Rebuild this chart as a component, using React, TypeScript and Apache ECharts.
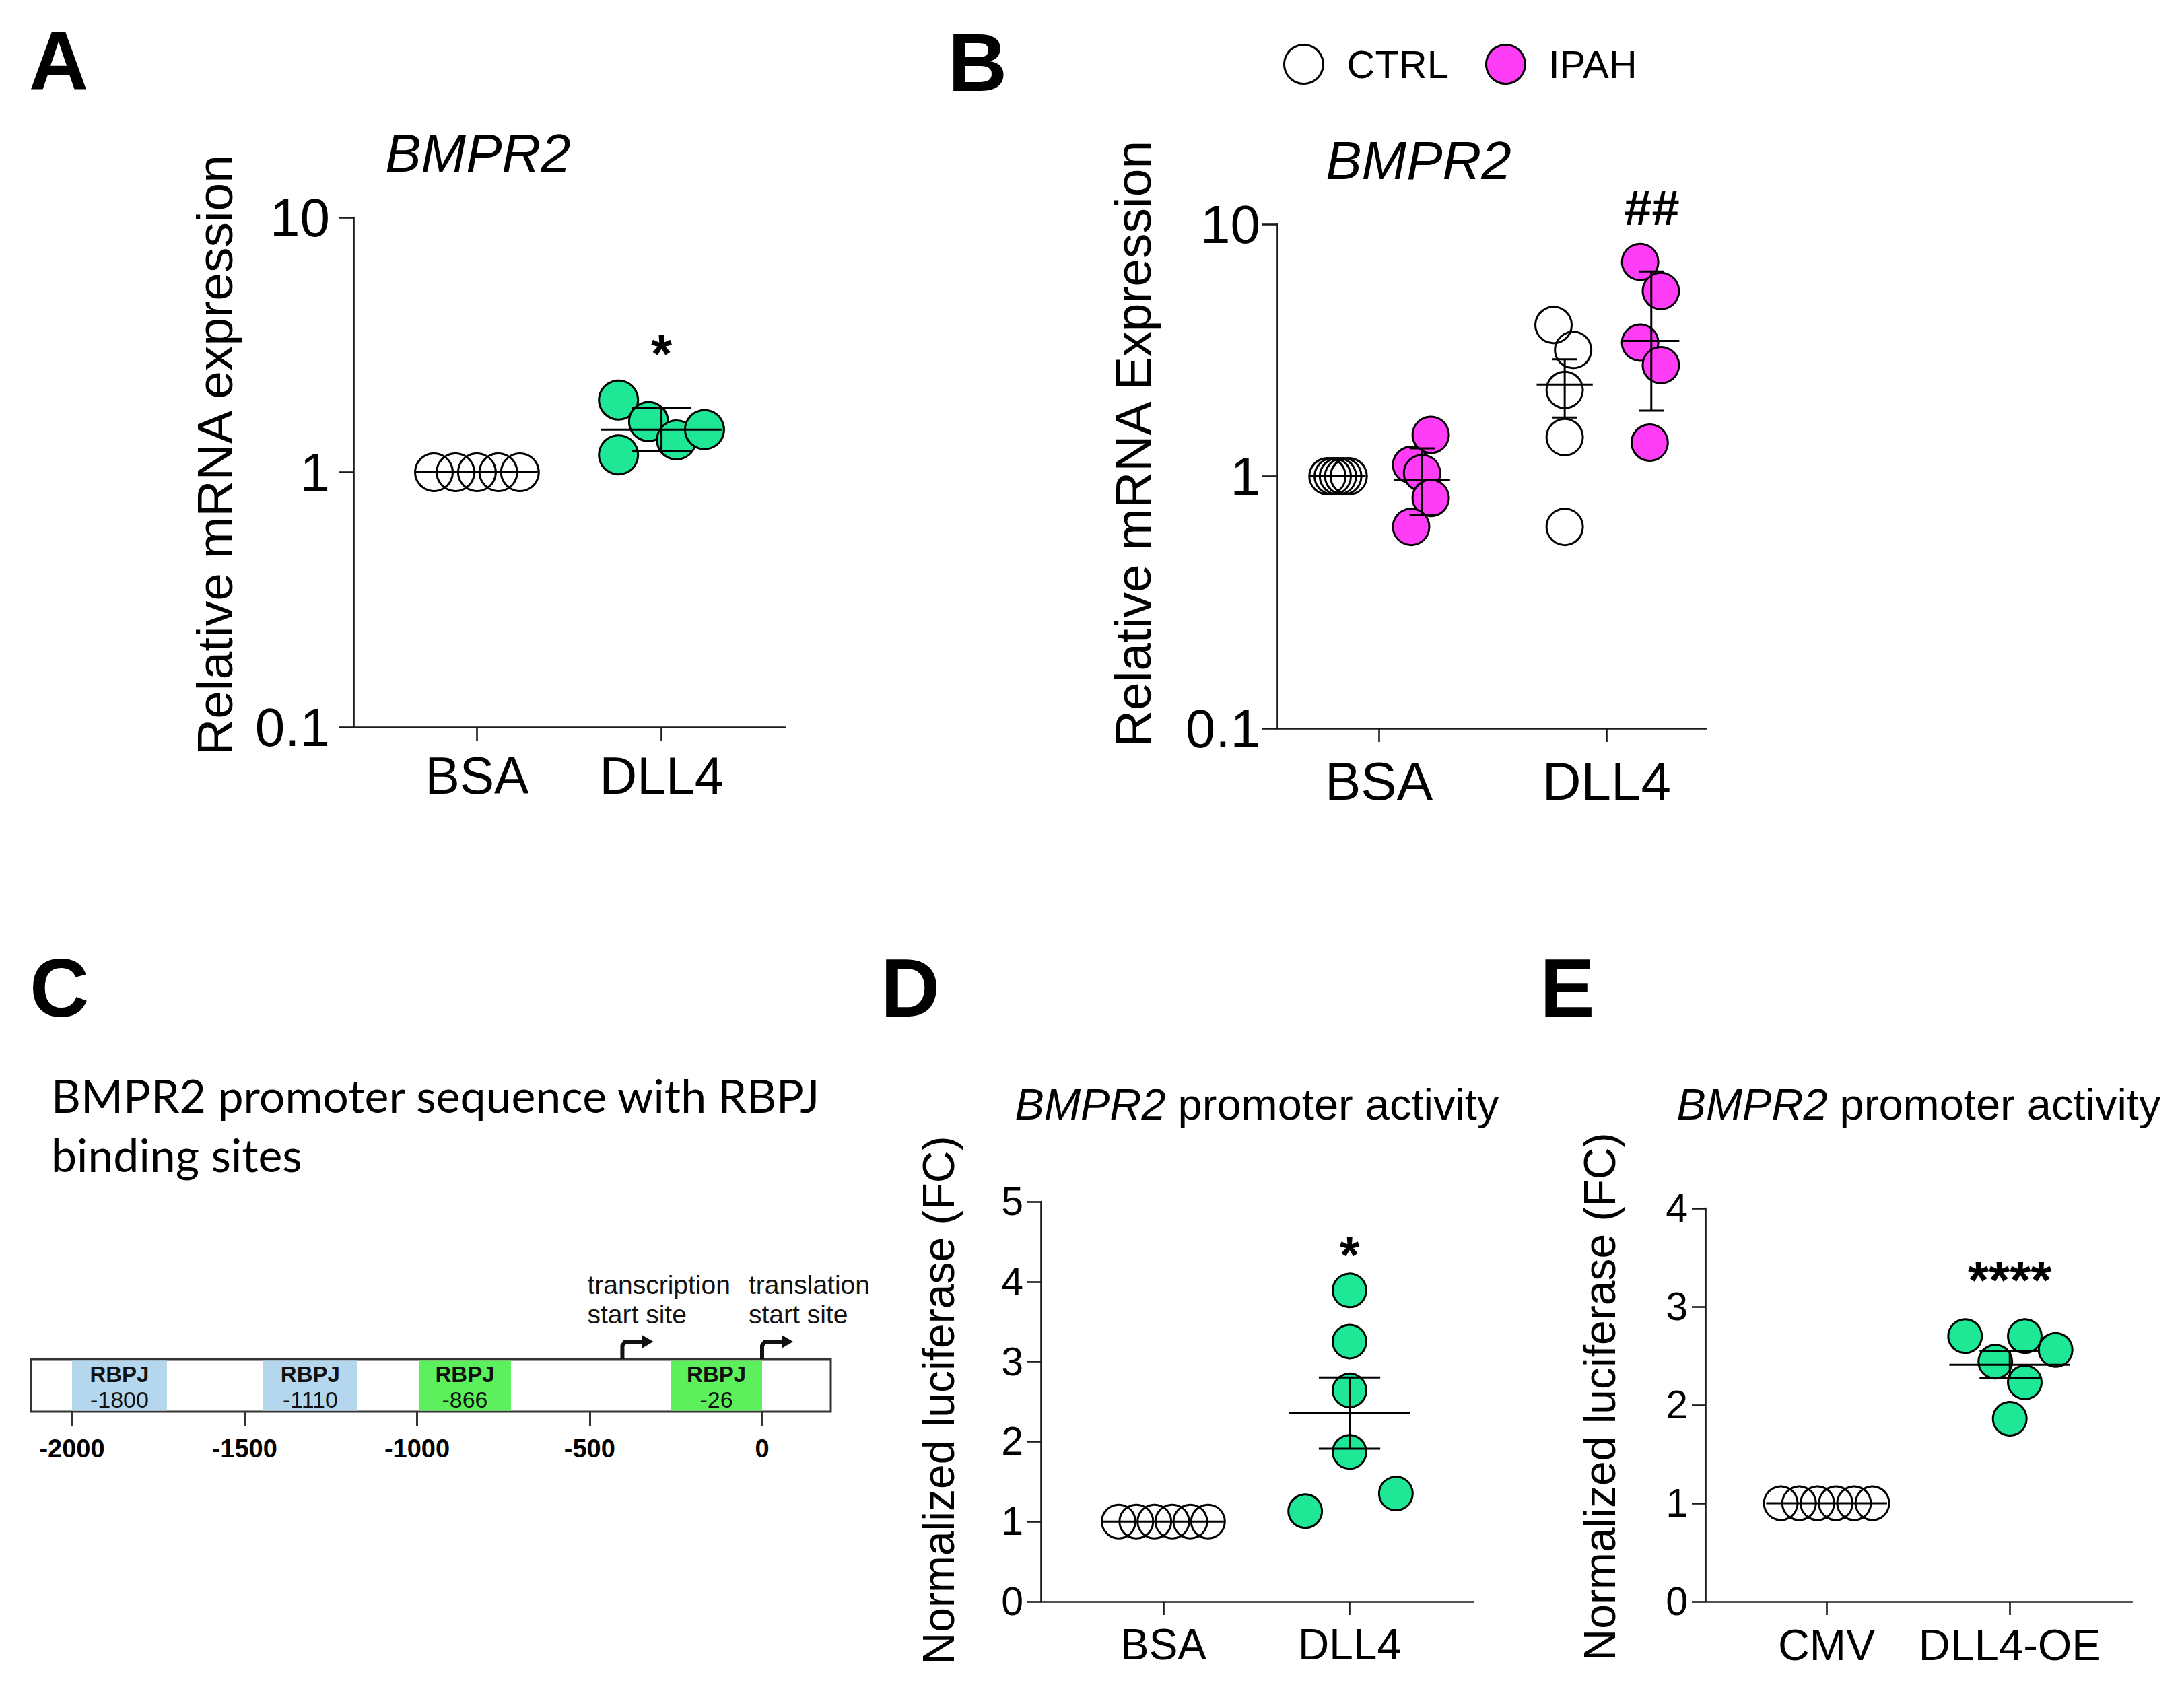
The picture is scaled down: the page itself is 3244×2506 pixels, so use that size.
import React, { useEffect, useRef } from 'react';
import * as echarts from 'echarts';

const W = 3244;
const H = 2506;
const FONT = '"Liberation Sans", Arial, Helvetica, sans-serif';
const AX = '#1a1a1a';
const GREEN = '#1ee896';
const PINK = '#ff3cf6';
const OPEN = 'rgba(255,255,255,0)';

// ---------- Panel A ----------
const aCategories = ['BSA', 'DLL4'];
const aBsaValues = [1, 1, 1, 1, 1];
const aBsaJitter = [-0.233, -0.116, 0, 0.116, 0.233];
const aDll4Values = [1.92, 1.58, 1.34, 1.47, 1.17];
const aDll4Jitter = [-0.233, -0.07, 0.081, 0.233, -0.233];
const aMean = [1, 1.47];
const aLow = [1, 1.21];
const aHigh = [1, 1.79];
const aSigText = ['*'];
const aSigPos = [[2, 2.92]];

// ---------- Panel B ----------
const bCategories = ['BSA', 'DLL4'];
const bCtrlBsa = [1, 1, 1, 1, 1];
const bCtrlBsaJitter = [-0.225, -0.202, -0.179, -0.156, -0.132];
const bIpahBsa = [1.46, 1.11, 1.03, 0.82, 0.63];
const bIpahBsaJitter = [0.228, 0.142, 0.19, 0.228, 0.142];
const bCtrlDll4 = [3.98, 3.17, 2.2, 1.43, 0.63];
const bCtrlDll4Jitter = [-0.233, -0.147, -0.184, -0.184, -0.184];
const bIpahDll4 = [7.08, 5.43, 3.39, 2.76, 1.36];
const bIpahDll4Jitter = [0.147, 0.238, 0.147, 0.238, 0.189];
const bStatX = [1 - 0.18, 1 + 0.19, 2 - 0.184, 2 + 0.196];
const bMean = [1, 0.97, 2.31, 3.44];
const bLow = [1, 0.7, 1.71, 1.82];
const bHigh = [1, 1.29, 2.91, 6.49];
const bSigText = ['##'];
const bSigPos = [[2.198, 11.6]];

// ---------- Panel C ----------
const cTicks = [-2000, -1500, -1000, -500, 0];
const cSiteStart = [-2000, -1446, -995, -265];
const cSiteEnd = [-1725, -1173, -728, 0];
const cSiteLabel = [-1800, -1110, -866, -26];
const cSiteKind = [0, 0, 1, 1];
const cArrowPos = [-405, 0];
const cArrowText = ['transcription\nstart site', 'translation\nstart site'];

// ---------- Panel D ----------
const dCategories = ['BSA', 'DLL4'];
const dBsaValues = [1, 1, 1, 1, 1, 1];
const dBsaJitter = [-0.24, -0.145, -0.048, 0.048, 0.145, 0.24];
const dDll4Values = [3.89, 3.25, 2.64, 1.87, 1.13, 1.35];
const dDll4Jitter = [0, 0, 0, 0, -0.238, 0.249];
const dMean = [1, 2.36];
const dLow = [1, 1.91];
const dHigh = [1, 2.8];
const dSigText = ['*'];
const dSigPos = [[2, 4.34]];

// ---------- Panel E ----------
const eCategories = ['CMV', 'DLL4-OE'];
const eCmvValues = [1, 1, 1, 1, 1, 1];
const eCmvJitter = [-0.25, -0.15, -0.05, 0.05, 0.15, 0.25];
const eOeValues = [2.7, 2.44, 2.7, 2.56, 2.23, 1.86];
const eOeJitter = [-0.244, -0.079, 0.082, 0.25, 0.082, 0];
const eMean = [1, 2.41];
const eLow = [1, 2.27];
const eHigh = [1, 2.55];
const eSigText = ['****'];
const eSigPos = [[2, 3.27]];

const lineStyle = { color: AX, width: 2.6 };

function pts(group: number, values: number[], jitter: number[]) {
  return values.map((v, i) => [group + jitter[i], v]);
}

function makeX(gridIndex: number, min: number, max: number, cats: string[], fontSize: number, margin: number) {
  const pos = cats.map((_, i) => i + 1);
  return {
    type: 'value', gridIndex, min, max,
    splitLine: { show: false },
    axisLine: { show: true, onZero: false, lineStyle },
    axisTick: { show: true, customValues: pos, length: 20, lineStyle },
    axisLabel: {
      show: true, customValues: pos, fontSize, margin, color: '#000', fontFamily: FONT,
      formatter: (v: number) => cats[Math.round(v) - 1] ?? '',
    },
  };
}

function makeLogY(gridIndex: number, fontSize: number, margin: number) {
  return {
    type: 'log', logBase: 10, gridIndex, min: 0.1, max: 10,
    splitLine: { show: false },
    axisLine: { show: true, onZero: false, lineStyle },
    axisTick: { show: true, length: 22, lineStyle },
    minorTick: { show: false },
    axisLabel: {
      fontSize, margin, color: '#000', fontFamily: FONT,
      formatter: (v: number) => String(Number(Number(v).toPrecision(3))),
    },
  };
}

function makeLinY(gridIndex: number, max: number, fontSize: number, margin: number) {
  return {
    type: 'value', gridIndex, min: 0, max, interval: 1,
    splitLine: { show: false },
    axisLine: { show: true, onZero: false, lineStyle },
    axisTick: { show: true, length: 20, lineStyle },
    axisLabel: { fontSize, margin, color: '#000', fontFamily: FONT },
  };
}

function scatter(name: string, g: number, data: number[][], size: number, fill: string) {
  return {
    type: 'scatter', name, xAxisIndex: g, yAxisIndex: g, data,
    symbol: 'circle', symbolSize: size, clip: false, silent: true, z: 2,
    itemStyle: { color: fill, borderColor: '#000', borderWidth: 3, opacity: 1 },
  };
}

function stats(g: number, xs: number[], mean: number[], low: number[], high: number[], mh: number, ch: number) {
  const data = xs.map((x, i) => [x, mean[i], low[i], high[i]]);
  return {
    type: 'custom', xAxisIndex: g, yAxisIndex: g, data, clip: false, silent: true, z: 5,
    encode: { x: 0, y: 1 },
    renderItem: (params: any, api: any) => {
      const cx = api.value(0), m = api.value(1), lo = api.value(2), hi = api.value(3);
      const pm = api.coord([cx, m]);
      const pl = api.coord([cx, lo]);
      const ph = api.coord([cx, hi]);
      const mw = api.coord([cx + mh, m])[0] - pm[0];
      const cw = api.coord([cx + ch, m])[0] - pm[0];
      const st = { stroke: '#000', lineWidth: 3 };
      const children: any[] = [
        { type: 'line', shape: { x1: pm[0] - mw, y1: pm[1], x2: pm[0] + mw, y2: pm[1] }, style: st },
      ];
      if (Math.abs(pl[1] - ph[1]) > 1) {
        children.push({ type: 'line', shape: { x1: pm[0], y1: pl[1], x2: pm[0], y2: ph[1] }, style: st });
        children.push({ type: 'line', shape: { x1: pm[0] - cw, y1: pl[1], x2: pm[0] + cw, y2: pl[1] }, style: st });
        children.push({ type: 'line', shape: { x1: pm[0] - cw, y1: ph[1], x2: pm[0] + cw, y2: ph[1] }, style: st });
      }
      return { type: 'group', children };
    },
  };
}

function sig(g: number, pos: number[][], texts: string[], fontSize: number, weight: string) {
  return {
    type: 'custom', xAxisIndex: g, yAxisIndex: g, data: pos, clip: false, silent: true, z: 6,
    encode: { x: 0, y: 1 },
    renderItem: (params: any, api: any) => {
      const p = api.coord([api.value(0), api.value(1)]);
      return {
        type: 'text', x: p[0], y: p[1],
        style: {
          text: texts[params.dataIndex], fill: '#000', fontSize, fontWeight: weight, fontFamily: FONT,
          align: 'center', verticalAlign: 'middle', textAlign: 'center', textVerticalAlign: 'middle',
        },
      };
    },
  };
}

function txt(text: string, x: number, y: number, fontSize: number, opts: any = {}) {
  const { rotation, align = 'center', ...rest } = opts;
  return {
    type: 'text', x, y, rotation: rotation || 0, silent: true,
    style: {
      text, fill: '#000', fontSize, fontFamily: FONT,
      align, verticalAlign: 'middle', textAlign: align, textVerticalAlign: 'middle',
      ...rest,
    },
  };
}

const siteFill = ['#b4d7ee', '#5cf05c'];

const option: any = {
  animation: false,
  backgroundColor: '#ffffff',
  textStyle: { fontFamily: FONT, color: '#000' },
  legend: {
    data: ['CTRL', 'IPAH'],
    left: 1901, top: 60,
    itemWidth: 58, itemHeight: 58, itemGap: 54,
    icon: 'circle',
    selectedMode: false,
    itemStyle: { borderColor: '#000', borderWidth: 3 },
    textStyle: { fontSize: 58, color: '#000', fontFamily: FONT, padding: [0, 0, 0, 30] },
  },
  grid: [
    { left: 525, top: 323, width: 641, height: 757, containLabel: false, outerBoundsMode: 'none' },
    { left: 1897, top: 333, width: 637, height: 749, containLabel: false, outerBoundsMode: 'none' },
    { left: 1546, top: 1785, width: 643, height: 594, containLabel: false, outerBoundsMode: 'none' },
    { left: 2533, top: 1795, width: 634, height: 584, containLabel: false, outerBoundsMode: 'none' },
    {
      left: 46, top: 2019, width: 1188, height: 78, containLabel: false, outerBoundsMode: 'none',
      show: true, borderColor: '#333', borderWidth: 3, backgroundColor: '#fff',
    },
  ],
  xAxis: [
    makeX(0, 0.331, 2.669, aCategories, 77, 33),
    makeX(1, 0.554, 2.436, bCategories, 80, 38),
    makeX(2, 0.342, 2.667, dCategories, 64, 32),
    makeX(3, 0.338, 2.668, eCategories, 65, 32),
    {
      type: 'value', gridIndex: 4, min: -2119, max: 199,
      splitLine: { show: false },
      axisLine: { show: false },
      axisTick: { show: true, customValues: cTicks, length: 22, lineStyle: { color: '#333', width: 3 } },
      axisLabel: {
        customValues: cTicks, fontSize: 38, fontWeight: 'bold', fontFamily: FONT, color: '#000', margin: 36,
        formatter: (v: number) => String(v),
      },
    },
  ],
  yAxis: [
    makeLogY(0, 80, 35),
    makeLogY(1, 80, 25),
    makeLinY(2, 5, 59, 26),
    makeLinY(3, 4, 59, 26),
    { type: 'value', gridIndex: 4, min: 0, max: 1, show: false },
  ],
  series: [
    // A
    scatter('A-BSA', 0, pts(1, aBsaValues, aBsaJitter), 56, OPEN),
    scatter('A-DLL4', 0, pts(2, aDll4Values, aDll4Jitter), 58, GREEN),
    stats(0, [1, 2], aMean, aLow, aHigh, 0.33, 0.16),
    sig(0, aSigPos, aSigText, 80, 'bold'),
    // B
    scatter('CTRL', 1, [...pts(1, bCtrlBsa, bCtrlBsaJitter), ...pts(2, bCtrlDll4, bCtrlDll4Jitter)], 54, OPEN),
    scatter('IPAH', 1, [...pts(1, bIpahBsa, bIpahBsaJitter), ...pts(2, bIpahDll4, bIpahDll4Jitter)], 54, PINK),
    stats(1, bStatX, bMean, bLow, bHigh, 0.123, 0.055),
    sig(1, bSigPos, bSigText, 74, 'bold'),
    // D
    scatter('D-BSA', 2, pts(1, dBsaValues, dBsaJitter), 50, OPEN),
    scatter('D-DLL4', 2, pts(2, dDll4Values, dDll4Jitter), 50, GREEN),
    stats(2, [1, 2], dMean, dLow, dHigh, 0.325, 0.165),
    sig(2, dSigPos, dSigText, 76, 'bold'),
    // E
    scatter('E-CMV', 3, pts(1, eCmvValues, eCmvJitter), 50, OPEN),
    scatter('E-OE', 3, pts(2, eOeValues, eOeJitter), 50, GREEN),
    stats(3, [1, 2], eMean, eLow, eHigh, 0.33, 0.165),
    sig(3, eSigPos, eSigText, 80, 'bold'),
    // C - binding sites
    {
      type: 'custom', xAxisIndex: 4, yAxisIndex: 4, clip: false, silent: true, z: 3,
      data: cSiteStart.map((s, i) => [s, cSiteEnd[i], cSiteLabel[i], cSiteKind[i]]),
      encode: { x: [0, 1] },
      renderItem: (params: any, api: any) => {
        const s = api.value(0), e = api.value(1), lab = api.value(2), kind = api.value(3);
        const p0 = api.coord([s, 1]);
        const p1 = api.coord([e, 0]);
        const x = p0[0];
        const y = p0[1] + 1.5;
        const w = p1[0] - p0[0];
        const h = p1[1] - p0[1] - 3;
        return {
          type: 'group',
          children: [
            { type: 'rect', shape: { x, y, width: w, height: h }, style: { fill: siteFill[kind] } },
            {
              type: 'text', x: x + w / 2, y: y + h * 0.28,
              style: {
                text: 'RBPJ', fill: '#111', fontSize: 33, fontWeight: 'bold', fontFamily: FONT,
                align: 'center', verticalAlign: 'middle', textAlign: 'center', textVerticalAlign: 'middle',
              },
            },
            {
              type: 'text', x: x + w / 2, y: y + h * 0.78,
              style: {
                text: String(lab), fill: '#111', fontSize: 34, fontFamily: FONT,
                align: 'center', verticalAlign: 'middle', textAlign: 'center', textVerticalAlign: 'middle',
              },
            },
          ],
        };
      },
    },
    // C - start site arrows
    {
      type: 'custom', xAxisIndex: 4, yAxisIndex: 4, clip: false, silent: true, z: 4,
      data: cArrowPos.map((p) => [p, 1]),
      encode: { x: 0, y: 1 },
      renderItem: (params: any, api: any) => {
        const p = api.coord([api.value(0), api.value(1)]);
        const x = p[0];
        const top = p[1];
        const yb = top - 26;
        const textDx = [-52, -20][params.dataIndex];
        return {
          type: 'group',
          children: [
            {
              type: 'polyline',
              shape: { points: [[x, top], [x, yb + 6], [x + 4, yb], [x + 32, yb]] },
              style: { stroke: '#111', lineWidth: 6, fill: null, lineJoin: 'round' },
            },
            {
              type: 'polygon',
              shape: { points: [[x + 29, yb - 10], [x + 46, yb], [x + 29, yb + 10]] },
              style: { fill: '#111' },
            },
            {
              type: 'text', x: x + textDx, y: top - 89,
              style: {
                text: cArrowText[params.dataIndex], fill: '#111', fontSize: 39, lineHeight: 44, fontFamily: FONT,
                align: 'left', verticalAlign: 'middle', textAlign: 'left', textVerticalAlign: 'middle',
              },
            },
          ],
        };
      },
    },
  ],
  graphic: [
    txt('A', 87, 91, 122, { fontWeight: 'bold' }),
    txt('B', 1452, 93, 122, { fontWeight: 'bold' }),
    txt('C', 88, 1468, 122, { fontWeight: 'bold' }),
    txt('D', 1352, 1468, 122, { fontWeight: 'bold' }),
    txt('E', 2328, 1468, 122, { fontWeight: 'bold' }),
    txt('BMPR2', 710, 227, 80, { fontStyle: 'italic' }),
    txt('BMPR2', 2107, 238, 80, { fontStyle: 'italic' }),
    txt('{i|BMPR2} promoter activity', 1867, 1640, 65, { rich: { i: { fontStyle: 'italic', fontSize: 65, fontFamily: FONT } } }),
    txt('{i|BMPR2} promoter activity', 2850, 1640, 65, { rich: { i: { fontStyle: 'italic', fontSize: 65, fontFamily: FONT } } }),
    txt('Relative mRNA expression', 319, 676, 75, { rotation: Math.PI / 2 }),
    txt('Relative mRNA Expression', 1683, 659, 75, { rotation: Math.PI / 2 }),
    txt('Normalized luciferase (FC)', 1394, 2080, 66, { rotation: Math.PI / 2 }),
    txt('Normalized luciferase (FC)', 2376, 2075, 66, { rotation: Math.PI / 2 }),
    txt('BMPR2 promoter sequence with RBPJ', 76, 1626, 68, { align: 'left', fontFamily: 'Lato, "Open Sans", sans-serif' }),
    txt('binding sites', 76, 1714, 68, { align: 'left', fontFamily: 'Lato, "Open Sans", sans-serif' }),
  ],
};

export default function App() {
  const ref = useRef<HTMLDivElement>(null);
  useEffect(() => {
    if (!ref.current) return;
    const chart = echarts.init(ref.current, null, { renderer: 'svg', width: W, height: H });
    chart.setOption(option);
    return () => chart.dispose();
  }, []);
  return (
    <div
      ref={ref}
      style={{ position: 'absolute', left: 0, top: 0, width: W, height: H, background: '#fff' }}
    />
  );
}
